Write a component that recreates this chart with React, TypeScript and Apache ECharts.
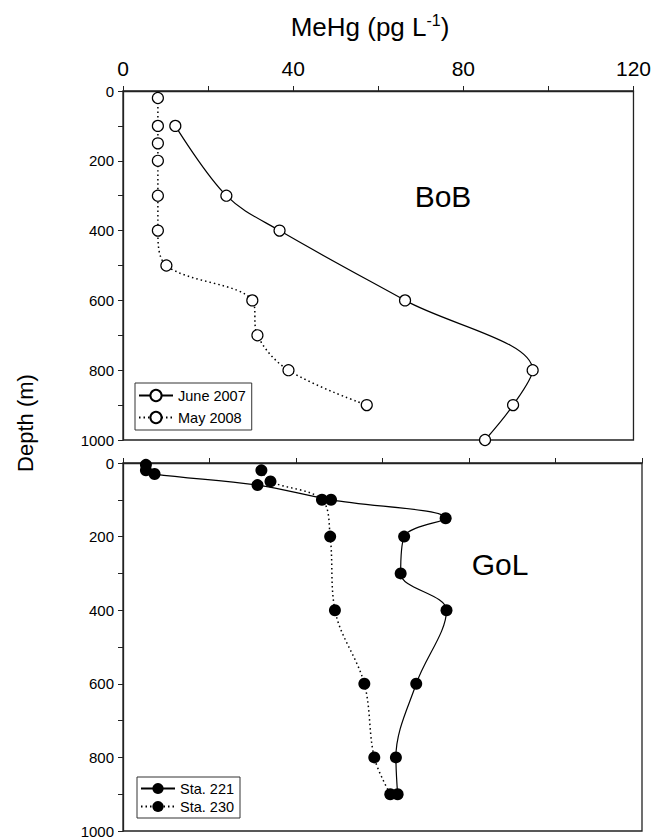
import React, { useEffect, useRef } from "react";
import * as echarts from "echarts";

// BoB panel (top)
const june2007Depth = [100, 300, 400, 600, 800, 900, 1000];
const june2007MeHg = [12.3, 24.3, 36.8, 66.3, 96.3, 91.7, 85.1];
const may2008Depth = [20, 100, 150, 200, 300, 400, 500, 600, 700, 800, 900];
const may2008MeHg = [8.2, 8.2, 8.2, 8.2, 8.2, 8.2, 10.2, 30.4, 31.6, 38.9, 57.3];

// GoL panel (bottom)
const sta221Depth = [5, 20, 30, 60, 100, 150, 200, 300, 400, 600, 800, 900];
const sta221MeHg = [5.3, 5.3, 7.3, 31.1, 48.1, 74.6, 65.0, 64.2, 74.8, 67.8, 63.1, 63.5];
const sta230Depth = [20, 50, 100, 200, 400, 600, 800, 900];
const sta230MeHg = [32.0, 34.1, 46.0, 47.9, 49.0, 55.8, 58.1, 61.8];

const xTicks = { min: 0, max: 120, interval: 20, labelEvery: 40 };
const yTicks = { min: 0, max: 1000, interval: 100, labelEvery: 200 };

const FONT = "'Liberation Sans', Arial, sans-serif";

function pairs(xs: number[], ys: number[]) {
  return xs.map((x, i) => [x, ys[i]]);
}

export default function App() {
  const ref = useRef<HTMLDivElement>(null);
  useEffect(() => {
    if (!ref.current) return;
    document.documentElement.style.overflow = "hidden";
    document.body.style.margin = "0";
    document.body.style.overflow = "hidden";
    const chart = echarts.init(ref.current, undefined, { renderer: "svg" });
    const axisLine = { show: true, lineStyle: { color: "#222", width: 1.3 } };
    const axisTick = { show: true, length: 5, lineStyle: { color: "#222", width: 1 } };
    const mkX = (gridIndex: number, showLabels: boolean) => ({
      type: "value",
      gridIndex,
      position: "top",
      min: xTicks.min,
      max: xTicks.max,
      interval: xTicks.interval,
      axisLine,
      axisTick,
      splitLine: { show: false },
      axisLabel: {
        show: showLabels,
        margin: 12,
        fontSize: 21,
        color: "#000",
        fontFamily: FONT,
        formatter: (v: number) => (v % xTicks.labelEvery === 0 ? String(v) : ""),
      },
    });
    const mkY = (gridIndex: number) => ({
      type: "value",
      gridIndex,
      inverse: true,
      min: yTicks.min,
      max: yTicks.max,
      interval: yTicks.interval,
      axisLine,
      axisTick,
      splitLine: { show: false },
      axisLabel: {
        margin: 9,
        fontSize: 15,
        color: "#000",
        fontFamily: FONT,
        formatter: (v: number) => (v % yTicks.labelEvery === 0 ? String(v) : ""),
      },
    });
    const openSym = {
      symbol: "circle",
      symbolSize: 11,
      itemStyle: { color: "#fff", borderColor: "#000", borderWidth: 1.2 },
    };
    const fillSym = {
      symbol: "circle",
      symbolSize: 12,
      itemStyle: { color: "#000", borderColor: "#000", borderWidth: 0 },
    };
    const solid = { color: "#000", width: 1.2, type: "solid" };
    const dotted = { color: "#000", width: 1.5, type: [1.5, 3] };
    const legendBase = {
      orient: "vertical",
      borderColor: "#333",
      borderWidth: 1,
      padding: [5, 6, 5, 3],
      itemWidth: 34,
      itemHeight: 14,
      textStyle: { fontSize: 14.5, color: "#000", fontFamily: FONT },
      backgroundColor: "#fff",
    };
    chart.setOption({
      animation: false,
      grid: [
        { left: 123, top: 91, width: 519, height: 349, show: true, borderColor: "#222", borderWidth: 1.3, backgroundColor: "transparent" },
        { left: 123, top: 463, width: 519, height: 368, show: true, borderColor: "#222", borderWidth: 1.3, backgroundColor: "transparent" },
      ],
      xAxis: [mkX(0, true), mkX(1, false)],
      yAxis: [mkY(0), mkY(1)],
      legend: [
        { ...legendBase, left: 135, top: 383, itemGap: 7, data: ["June 2007", "May 2008"] },
        { ...legendBase, left: 137, top: 777, itemGap: 3, padding: [4, 6, 4, 3], data: ["Sta. 221", "Sta. 230"] },
      ],
      graphic: [
        {
          type: "text",
          x: 370,
          y: 27,
          style: {
            text: "{a|MeHg (pg L}{s|-1}{a|)}",
            align: "center",
            verticalAlign: "middle",
            rich: {
              a: { fontSize: 26, fontFamily: FONT, fill: "#000", lineHeight: 30 },
              s: { fontSize: 16, fontFamily: FONT, fill: "#000", lineHeight: 30, padding: [0, 0, 14, 0] },
            },
          },
        },
        {
          type: "text",
          x: 25,
          y: 423,
          rotation: Math.PI / 2,
          style: { text: "Depth (m)", fontSize: 22, fontFamily: FONT, fill: "#000", align: "center", verticalAlign: "middle" },
        },
        {
          type: "text",
          x: 443,
          y: 196,
          style: { text: "BoB", fontSize: 30, fontFamily: FONT, fill: "#000", align: "center", verticalAlign: "middle" },
        },
        {
          type: "text",
          x: 500,
          y: 564,
          style: { text: "GoL", fontSize: 30, fontFamily: FONT, fill: "#000", align: "center", verticalAlign: "middle" },
        },
      ],
      series: [
        {
          name: "June 2007", type: "line", xAxisIndex: 0, yAxisIndex: 0, smooth: 0.35, clip: false,
          data: pairs(june2007MeHg, june2007Depth), lineStyle: solid, ...openSym, z: 3,
        },
        {
          name: "May 2008", type: "line", xAxisIndex: 0, yAxisIndex: 0, smooth: 0.35, clip: false,
          data: pairs(may2008MeHg, may2008Depth), lineStyle: dotted, ...openSym, z: 2,
        },
        {
          name: "Sta. 221", type: "line", xAxisIndex: 1, yAxisIndex: 1, smooth: 0.35, clip: false,
          data: pairs(sta221MeHg, sta221Depth), lineStyle: solid, ...fillSym, z: 3,
        },
        {
          name: "Sta. 230", type: "line", xAxisIndex: 1, yAxisIndex: 1, smooth: 0.35, clip: false,
          data: pairs(sta230MeHg, sta230Depth), lineStyle: dotted, ...fillSym, z: 2,
        },
      ],
    });
    return () => chart.dispose();
  }, []);
  return (
    <div
      ref={ref}
      style={{ position: "absolute", left: 0, top: 0, width: 654, height: 839, background: "#fff" }}
    />
  );
}
